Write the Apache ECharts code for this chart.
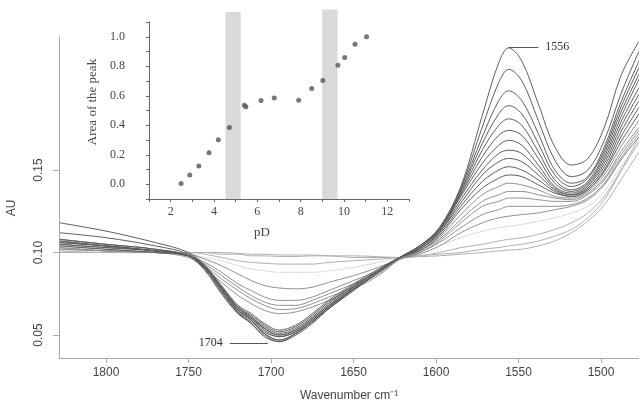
<!DOCTYPE html>
<html><head><meta charset="utf-8">
<script src="https://cdn.jsdelivr.net/npm/echarts@6/dist/echarts.min.js"></script>
<style>html,body{margin:0;padding:0;background:#fff}#c{width:639px;height:404px}</style>
</head><body><div id="c"></div>
<script>
// ---- main spectra: wavenumbers (cm-1) and absorbance curves ----
const wavenumbers = [1828,1800,1770,1750,1740,1730,1720,1712,1704,1695,1685,1675,1665,1650,1635,1622,1610,1598,1585,1572,1562,1556,1548,1538,1528,1518,1508,1498,1488,1477];

const specD1  = [0.118,0.113,0.106,0.100,0.092,0.079,0.066,0.060,0.053,0.049,0.052,0.059,0.067,0.078,0.088,0.097,0.104,0.115,0.140,0.183,0.215,0.224,0.216,0.190,0.164,0.153,0.157,0.176,0.207,0.228];
const specD2  = [0.112,0.109,0.104,0.099,0.091,0.078,0.065,0.059,0.051,0.047,0.051,0.058,0.066,0.078,0.088,0.097,0.104,0.115,0.139,0.176,0.203,0.211,0.204,0.180,0.156,0.146,0.150,0.168,0.196,0.222];
const specD3  = [0.108,0.105,0.102,0.098,0.090,0.076,0.063,0.057,0.049,0.046,0.050,0.057,0.066,0.077,0.088,0.097,0.104,0.114,0.138,0.170,0.192,0.198,0.192,0.172,0.150,0.142,0.146,0.164,0.191,0.216];
const specD4  = [0.107,0.104,0.101,0.098,0.090,0.077,0.064,0.057,0.050,0.046,0.051,0.058,0.067,0.078,0.088,0.097,0.103,0.114,0.137,0.166,0.184,0.189,0.184,0.166,0.147,0.140,0.145,0.162,0.188,0.212];
const specD5  = [0.106,0.104,0.101,0.098,0.091,0.078,0.065,0.060,0.054,0.050,0.053,0.060,0.068,0.079,0.089,0.097,0.103,0.114,0.136,0.162,0.177,0.181,0.177,0.161,0.144,0.138,0.143,0.160,0.185,0.208];
const specD6  = [0.108,0.105,0.102,0.098,0.089,0.075,0.063,0.058,0.051,0.047,0.051,0.058,0.066,0.077,0.088,0.097,0.103,0.113,0.135,0.158,0.171,0.174,0.171,0.157,0.142,0.137,0.142,0.158,0.182,0.205];
const specD7  = [0.105,0.103,0.101,0.098,0.091,0.079,0.066,0.061,0.055,0.051,0.054,0.061,0.069,0.080,0.089,0.097,0.103,0.113,0.134,0.154,0.165,0.168,0.165,0.153,0.140,0.136,0.141,0.156,0.179,0.200];
const specD8  = [0.107,0.104,0.101,0.098,0.090,0.077,0.064,0.059,0.052,0.049,0.052,0.059,0.067,0.078,0.088,0.097,0.102,0.112,0.132,0.150,0.160,0.162,0.160,0.150,0.139,0.135,0.140,0.154,0.176,0.196];
const specD9  = [0.106,0.104,0.101,0.098,0.091,0.079,0.067,0.062,0.056,0.052,0.055,0.062,0.070,0.080,0.089,0.097,0.102,0.112,0.130,0.147,0.155,0.157,0.155,0.147,0.138,0.135,0.139,0.152,0.173,0.192];
const specD10 = [0.105,0.103,0.101,0.098,0.092,0.080,0.068,0.063,0.057,0.053,0.056,0.063,0.071,0.081,0.090,0.097,0.102,0.111,0.128,0.143,0.150,0.152,0.150,0.144,0.137,0.134,0.138,0.150,0.170,0.188];
const specD11 = [0.104,0.102,0.100,0.098,0.091,0.079,0.067,0.061,0.054,0.050,0.053,0.060,0.068,0.079,0.089,0.097,0.101,0.110,0.126,0.139,0.145,0.147,0.146,0.141,0.136,0.134,0.138,0.149,0.167,0.184];
const specM1  = [0.104,0.102,0.100,0.097,0.090,0.082,0.074,0.069,0.065,0.063,0.064,0.067,0.071,0.078,0.086,0.096,0.101,0.109,0.123,0.135,0.140,0.142,0.141,0.138,0.134,0.133,0.137,0.147,0.164,0.180];
const specM2  = [0.103,0.101,0.100,0.098,0.092,0.084,0.077,0.072,0.068,0.0655,0.066,0.069,0.073,0.079,0.087,0.096,0.101,0.108,0.120,0.131,0.135,0.137,0.137,0.135,0.133,0.132,0.136,0.145,0.161,0.176];
const specM3  = [0.103,0.101,0.100,0.098,0.093,0.086,0.079,0.074,0.070,0.068,0.068,0.071,0.075,0.081,0.088,0.096,0.100,0.107,0.118,0.128,0.131,0.133,0.133,0.132,0.131,0.131,0.135,0.144,0.159,0.174];
const specM4  = [0.102,0.101,0.100,0.098,0.094,0.088,0.081,0.077,0.073,0.071,0.071,0.073,0.077,0.083,0.089,0.096,0.100,0.106,0.115,0.123,0.126,0.128,0.128,0.128,0.128,0.129,0.133,0.142,0.157,0.172];
const specM5  = [0.102,0.101,0.100,0.099,0.096,0.092,0.087,0.083,0.080,0.0785,0.078,0.079,0.082,0.086,0.091,0.096,0.099,0.104,0.112,0.118,0.121,0.122,0.123,0.124,0.126,0.128,0.132,0.141,0.156,0.170];
const specM6  = [0.101,0.100,0.100,0.099,0.097,0.095,0.092,0.090,0.089,0.088,0.088,0.088,0.089,0.091,0.094,0.097,0.099,0.104,0.109,0.113,0.115,0.116,0.117,0.119,0.121,0.124,0.128,0.137,0.152,0.167];
const specM7  = [0.101,0.100,0.100,0.100,0.099,0.097,0.095,0.094,0.0935,0.093,0.093,0.093,0.094,0.095,0.096,0.097,0.098,0.100,0.103,0.105,0.107,0.108,0.109,0.111,0.114,0.118,0.124,0.134,0.150,0.170];
const specM8  = [0.100,0.100,0.100,0.100,0.100,0.099,0.099,0.098,0.098,0.0976,0.0976,0.098,0.098,0.097,0.097,0.097,0.098,0.099,0.100,0.102,0.103,0.104,0.105,0.107,0.110,0.114,0.121,0.132,0.149,0.167];
const specM9  = [0.100,0.100,0.100,0.100,0.100,0.100,0.0995,0.099,0.099,0.0985,0.0985,0.0985,0.098,0.098,0.0975,0.097,0.0975,0.098,0.099,0.100,0.101,0.1015,0.102,0.104,0.107,0.112,0.119,0.129,0.144,0.161];

const deepSpectra = [specD1,specD2,specD3,specD4,specD5,specD6,specD7,specD8,specD9,specD10,specD11];
const midSpectra  = [specM1,specM2,specM3,specM4,specM5];
const dottedSpectra = [specM6];
const flatSpectra = [specM7,specM8,specM9];

const xTicks = [1500,1550,1600,1650,1700,1750,1800];
const yTicks = [0.05,0.10,0.15];

// ---- inset: area of the peak vs pD ----
const pD   = [2.48,2.88,3.30,3.77,4.20,4.71,5.40,5.47,6.17,6.78,7.91,8.51,9.02,9.72,10.03,10.51,11.04];
const area = [0.005,0.063,0.124,0.214,0.302,0.385,0.536,0.525,0.568,0.585,0.570,0.649,0.703,0.806,0.860,0.950,1.000];
const bandStart = [4.53, 8.99];
const bandEnd   = [5.23, 9.70];
const bandTop   = [1.168, 1.185];
const insetXTicks = [2,4,6,8,10,12];
const insetYTicks = [0.0,0.2,0.4,0.6,0.8,1.0];

const chart = echarts.init(document.getElementById('c'), null, {renderer:'canvas'});
const SANS = 'Liberation Sans, Arial, sans-serif';
const SERIF = 'Liberation Serif, Times New Roman, serif';

function lineSeries(data, color, type, width){
  return {
    type:'line', xAxisIndex:0, yAxisIndex:0, smooth:0.35, showSymbol:false, symbol:'none', silent:true,
    data: wavenumbers.map((w,i)=>[w,data[i]]),
    lineStyle:{color:color, width:width, type:type}, z:2
  };
}
const series = [];
flatSpectra.forEach(s=>series.push(lineSeries(s,'#b0b0b0','solid',1)));
dottedSpectra.forEach(s=>series.push(lineSeries(s,'#b8b8b8','dotted',1)));
midSpectra.forEach(s=>series.push(lineSeries(s,'#909090','solid',1)));
deepSpectra.forEach(s=>series.push(lineSeries(s,'#5e5e5e','solid',1)));

// annotation leader lines
series[series.length-1].markLine = {
  silent:true, symbol:'none', animation:false,
  lineStyle:{color:'#555', width:1, type:'solid'},
  label:{show:true, position:'end', distance:7, fontFamily:SERIF, fontSize:12, color:'#333', formatter:p=>p.name},
  data:[
    [{name:'1556', coord:[1556,0.2245]},{coord:[1538,0.2245]}],
    [{name:'1704', coord:[1702,0.0452]},{coord:[1725,0.0452]}]
  ]
};

series.push({
  type:'custom', xAxisIndex:1, yAxisIndex:1, silent:true, clip:false, z:1,
  data: bandStart.map((s,i)=>[s,bandEnd[i],bandTop[i]]),
  encode:{x:[0,1], y:2},
  renderItem:function(params, api){
    const p0 = api.coord([api.value(0), api.value(2)]);
    const p1 = api.coord([api.value(1), -0.1]);
    return {type:'rect', shape:{x:p0[0], y:p0[1], width:p1[0]-p0[0], height:p1[1]-p0[1]}, style:{fill:'#d9d9d9'}};
  }
});
series.push({
  type:'scatter', xAxisIndex:1, yAxisIndex:1, silent:true, z:3,
  symbolSize:5, itemStyle:{color:'#555'},
  data: pD.map((x,i)=>[x,area[i]])
});

chart.setOption({
  animation:false,
  backgroundColor:'#fff',
  grid:[
    {left:59, right:0, top:37, bottom:46, containLabel:false, outerBoundsMode:'none'},
    {left:149, top:22, width:260, height:177, containLabel:false, outerBoundsMode:'none'}
  ],
  xAxis:[
    {type:'value', gridIndex:0, inverse:true, min:1477, max:1828.5,
     axisLine:{onZero:false, lineStyle:{color:'#aaa'}},
     axisTick:{customValues:xTicks, length:5, lineStyle:{color:'#aaa'}},
     axisLabel:{customValues:xTicks, margin:9, fontFamily:SANS, fontSize:12, color:'#444', formatter:v=>String(v)},
     splitLine:{show:false},
     name:'Wavenumber cm\u207B\u00B9', nameLocation:'middle', nameGap:32,
     nameTextStyle:{fontFamily:SANS, fontSize:12, color:'#444'}
    },
    {type:'value', gridIndex:1, min:1, max:13, interval:1,
     axisLine:{onZero:false, lineStyle:{color:'#666'}},
     axisTick:{length:3, lineStyle:{color:'#666'}},
     axisLabel:{customValues:insetXTicks, margin:7, fontFamily:SERIF, fontSize:12, color:'#444', formatter:v=>String(v)},
     splitLine:{show:false}
    }
  ],
  yAxis:[
    {type:'value', gridIndex:0, min:0.0361, max:0.2306,
     axisLine:{show:true, onZero:false, lineStyle:{color:'#aaa'}},
     axisTick:{show:true, customValues:yTicks, length:6, lineStyle:{color:'#aaa'}},
     axisLabel:{customValues:yTicks, rotate:90, margin:14, fontFamily:SANS, fontSize:12, color:'#444',
       formatter:v=>v.toFixed(2)},
     splitLine:{show:false}
    },
    {type:'value', gridIndex:1, min:-0.1, max:1.1, interval:0.1,
     axisLine:{show:true, onZero:false, lineStyle:{color:'#666'}},
     axisTick:{show:true, length:3, lineStyle:{color:'#666'}},
     axisLabel:{customValues:insetYTicks, margin:24, fontFamily:SERIF, fontSize:12, color:'#444',
       formatter:v=>v.toFixed(1)},
     splitLine:{show:false}
    }
  ],
  graphic:[
    {type:'text', x:12, y:208, rotation:Math.PI/2,
     style:{text:'AU', font:'12px '+SANS, fill:'#444', align:'center', verticalAlign:'middle'}},
    {type:'text', x:93, y:102, rotation:Math.PI/2,
     style:{text:'Area of the peak', font:'13px '+SERIF, fill:'#444', align:'center', verticalAlign:'middle'}},
    {type:'text', x:262, y:233,
     style:{text:'pD', font:'13px '+SERIF, fill:'#444', align:'center', verticalAlign:'middle'}}
  ],
  series:series
});
</script></body></html>
